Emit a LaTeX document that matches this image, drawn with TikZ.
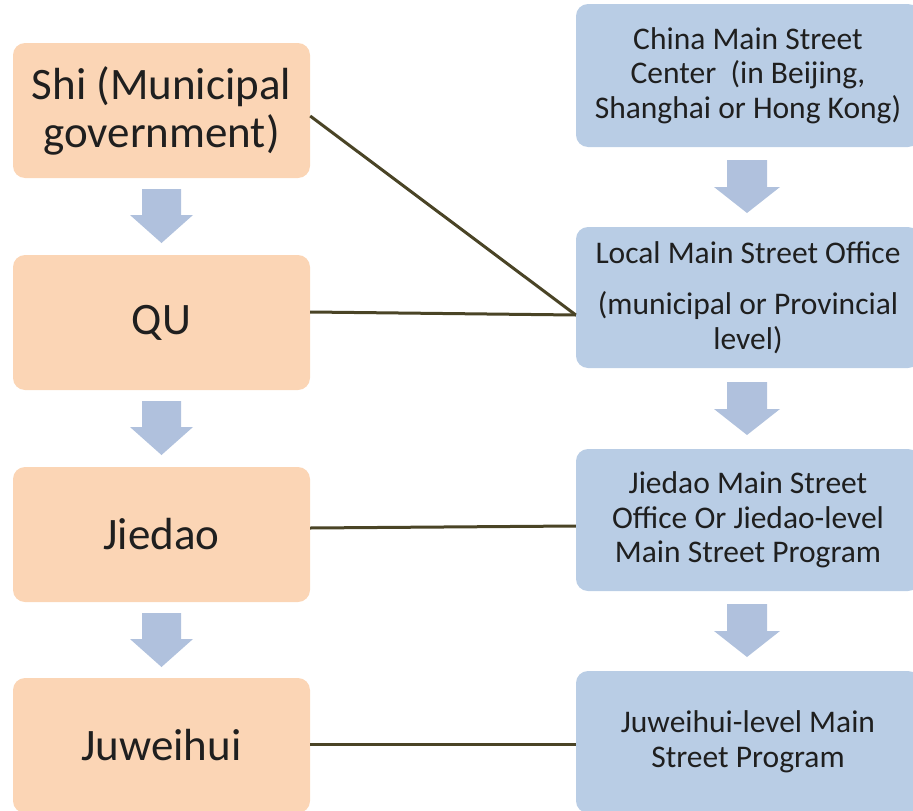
\documentclass[tikz,border=0pt]{standalone}
\usepackage{fontspec}
\setmainfont{Carlito}
\definecolor{peach}{HTML}{FBD5B5}
\definecolor{paleblue}{HTML}{B9CDE5}
\definecolor{arrowblue}{HTML}{B0C1DD}
\definecolor{olive}{HTML}{4A4426}
\tikzset{
  leftbox/.style={draw=none, fill=peach, rounded corners=12pt, minimum width=297pt, minimum height=135pt, inner sep=0pt, align=center, font=\fontsize{45}{48}\selectfont, text=black!88},
  rightbox/.style={draw=none, fill=paleblue, rounded corners=12pt, minimum width=344pt, minimum height=142pt, inner sep=0pt, align=center, font=\fontsize{31.5}{34.5}\selectfont, text=black!88},
  link/.style={draw=olive, line width=3pt}
}
\newcommand{\blockarrow}[7]{% x, top y, shaft half, head half, shaft h, total h
  \fill[arrowblue] (#1-#3,#2) -- (#1+#3,#2) -- (#1+#3,#2+#5) -- (#1+#4,#2+#5) -- (#1,#2+#6) -- (#1-#4,#2+#5) -- (#1-#3,#2+#5) -- cycle;}
\begin{document}
\begin{tikzpicture}[x=1pt,y=-1pt]
\useasboundingbox (0,0) rectangle (913,811);
% left column
\node[leftbox] (shi) at (161.5,110.5) {Shi (Municipal\\government)};
\node[leftbox] (qu) at (161.5,322.5) {QU};
\node[leftbox] (jiedao) at (161.5,534.5) {Jiedao};
\node[leftbox] (juweihui) at (161.5,745.5) {Juweihui};
% right column
\node[rightbox, minimum height=143pt] (center) at (748,75.5) {China Main Street\\Center\ \ (in Beijing,\\Shanghai or Hong Kong)};
\node[rightbox, minimum height=141pt] (local) at (748,297.5) {Local Main Street Office\\[17pt](municipal or Provincial\\level)};
\node[rightbox] (jmso) at (748,520) {Jiedao Main Street\\Office Or Jiedao-level\\Main Street Program};
\node[rightbox] (jwmsp) at (748,742) {Juweihui-level Main\\Street Program};
% block arrows
\blockarrow{161.5}{189}{19.5}{31.5}{26}{54}{}
\blockarrow{161.5}{401}{19.5}{31.5}{26}{54}{}
\blockarrow{161.5}{613}{19.5}{31.5}{26}{54}{}
\blockarrow{747}{160}{20}{33}{27}{53}{}
\blockarrow{747}{382}{20}{33}{27}{53}{}
\blockarrow{747}{604}{20}{33}{27}{53}{}
% connectors
\coordinate (meet) at (local.west |- 0,315);
\draw[link] (shi.east |- 0,116) -- (meet);
\draw[link] (qu.east |- 0,312) -- (meet);
\draw[link] (jiedao.east |- 0,528) -- (jmso.west |- 0,526);
\draw[link] (juweihui.east |- 0,744) -- (jwmsp.west |- 0,744);
\end{tikzpicture}
\end{document}
